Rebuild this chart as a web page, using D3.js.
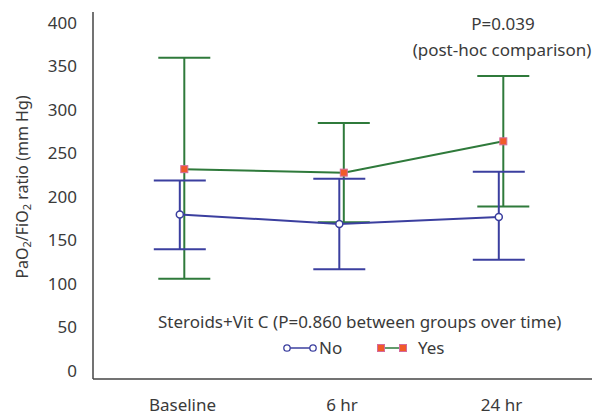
<!DOCTYPE html>
<html>
<head>
<meta charset="utf-8">
<script src="https://cdn.jsdelivr.net/npm/d3@7"></script>
<style>
  html, body { margin: 0; padding: 0; background: #fff; }
  svg { display: block; }
  text { font-family: "Noto Sans", sans-serif; fill: #3a3a3a; }
</style>
</head>
<body>
<svg id="chart" width="594" height="415"></svg>
<script>
const categories = ["Baseline", "6 hr", "24 hr"];
const noMean = [180, 169, 177];
const noLow = [140, 117, 128];
const noHigh = [219, 221, 229];
const yesMean = [232, 228, 264];
const yesLow = [106, 171, 189];
const yesHigh = [360, 285, 339];
const yTicks = [0, 50, 100, 150, 200, 250, 300, 350, 400];
const seriesNames = ["No", "Yes"];

const svg = d3.select("#chart");
const green = "#2f7a3b";
const blue = "#3b3f9f";
const orange = "#f15a29";
const sqBorder = "#d46a9c";
const FS = "17px";

const axisX = 93, axisBottom = 379, axisTop = 12, axisRight = 592;

const x = d3.scalePoint().domain(categories).range([182, 501]);
const y = d3.scaleLinear().domain([0, 400]).range([371, 23]);
const offNo = -2.2, offYes = 2.3, capHalf = 26;

// axes lines
svg.append("line").attr("x1", axisX).attr("x2", axisX).attr("y1", axisTop).attr("y2", axisBottom)
  .attr("stroke", "#444").attr("stroke-width", 1.5);
svg.append("line").attr("x1", axisX).attr("x2", axisRight).attr("y1", axisBottom).attr("y2", axisBottom)
  .attr("stroke", "#444").attr("stroke-width", 1.5);

// y tick labels via d3 axis
const yAxis = d3.axisLeft(y).tickValues(yTicks).tickSize(0).tickPadding(0);
const gy = svg.append("g").attr("transform", "translate(77,0)").call(yAxis);
gy.select(".domain").remove();
gy.selectAll("text").style("font-size", FS).attr("fill", "#3a3a3a").style("font-family", "Noto Sans");

// x labels via d3 axis
const xAxis = d3.axisBottom(x).tickSize(0).tickPadding(0);
const gx = svg.append("g").attr("transform", "translate(0,399)").call(xAxis);
gx.select(".domain").remove();
gx.selectAll("text").style("font-size", FS).attr("fill", "#3a3a3a").style("font-family", "Noto Sans");

// y axis title
const yt = svg.append("text").attr("transform", "translate(28,187) rotate(-90)")
  .attr("text-anchor", "middle").style("font-size", "16px");
yt.append("tspan").text("PaO");
yt.append("tspan").text("2").attr("font-size", "11px").attr("dy", 3);
yt.append("tspan").text("/FiO").attr("dy", -3);
yt.append("tspan").text("2").attr("font-size", "11px").attr("dy", 3);
yt.append("tspan").text(" ratio (mm Hg)").attr("dy", -3);

function drawSeries(means, lows, highs, color, off) {
  const g = svg.append("g");
  const line = d3.line().x((d, i) => x(categories[i]) + off).y(d => y(d));
  g.append("path").datum(means).attr("d", line).attr("fill", "none")
    .attr("stroke", color).attr("stroke-width", 2);
  categories.forEach((c, i) => {
    const cx = x(c) + off;
    g.append("line").attr("x1", cx).attr("x2", cx).attr("y1", y(lows[i])).attr("y2", y(highs[i]))
      .attr("stroke", color).attr("stroke-width", 2);
    [lows[i], highs[i]].forEach(v => {
      g.append("line").attr("x1", cx - capHalf).attr("x2", cx + capHalf).attr("y1", y(v)).attr("y2", y(v))
        .attr("stroke", color).attr("stroke-width", 2);
    });
  });
  return g;
}

const gYes = drawSeries(yesMean, yesLow, yesHigh, green, offYes);
const gNo = drawSeries(noMean, noLow, noHigh, blue, offNo);

// markers
categories.forEach((c, i) => {
  svg.append("rect").attr("x", x(c) + offYes - 3.5).attr("y", y(yesMean[i]) - 3.5)
    .attr("width", 7).attr("height", 7).attr("fill", orange).attr("stroke", sqBorder).attr("stroke-width", 1);
  svg.append("circle").attr("cx", x(c) + offNo).attr("cy", y(noMean[i])).attr("r", 3.5)
    .attr("fill", "#fff").attr("stroke", blue).attr("stroke-width", 1.5);
});

// annotations
svg.append("text").attr("x", 503).attr("y", 30).attr("text-anchor", "middle")
  .style("font-size", FS).text("P=0.039");
svg.append("text").attr("x", 502).attr("y", 56).attr("text-anchor", "middle")
  .style("font-size", FS).text("(post-hoc comparison)");
svg.append("text").attr("x", 158).attr("y", 328).attr("text-anchor", "start")
  .style("font-size", FS).text("Steroids+Vit C (P=0.860 between groups over time)");

// legend
const ly = 348;
svg.append("line").attr("x1", 287).attr("x2", 313).attr("y1", ly).attr("y2", ly).attr("stroke", blue).attr("stroke-width", 1.5);
[287, 313].forEach(cx => svg.append("circle").attr("cx", cx).attr("cy", ly).attr("r", 3.2)
  .attr("fill", "#fff").attr("stroke", blue).attr("stroke-width", 1.3));
svg.append("text").attr("x", 319).attr("y", ly + 6).style("font-size", FS).text(seriesNames[0]);
svg.append("line").attr("x1", 381).attr("x2", 403).attr("y1", ly).attr("y2", ly).attr("stroke", green).attr("stroke-width", 1.5);
[381, 403].forEach(cx => svg.append("rect").attr("x", cx - 3.5).attr("y", ly - 3.5).attr("width", 7).attr("height", 7)
  .attr("fill", orange).attr("stroke", sqBorder).attr("stroke-width", 1));
svg.append("text").attr("x", 418).attr("y", ly + 6).style("font-size", FS).text(seriesNames[1]);
</script>
</body>
</html>
